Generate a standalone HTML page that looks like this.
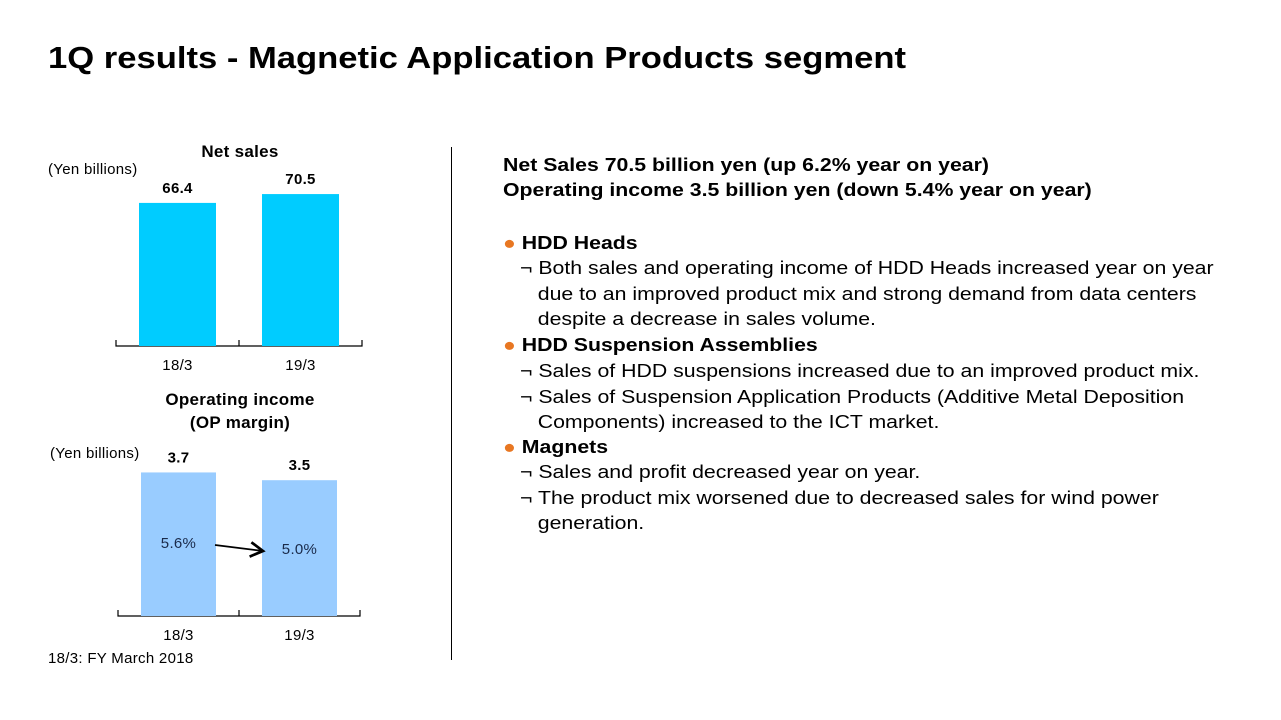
<!DOCTYPE html>
<html><head><meta charset="utf-8"><style>
body{margin:0;width:1281px;height:720px;background:#fff;font-family:"Liberation Sans",sans-serif;position:relative;overflow:hidden;color:#000}
.t{position:absolute;white-space:nowrap}
.r{position:absolute;left:503px;font-size:18.5px;white-space:nowrap;line-height:25.6px;transform:scaleX(1.15);transform-origin:0 0}
.b{font-weight:bold}
.dot{color:#e87722}
</style></head><body>
<div class="t b" style="left:48px;top:40px;font-size:31px;transform:scaleX(1.116);transform-origin:0 0">1Q results - Magnetic Application Products segment</div>
<div style="position:absolute;left:451px;top:147px;width:1px;height:513px;background:#000"></div>
<svg width="450" height="720" style="position:absolute;left:0;top:0;letter-spacing:0.3px" font-family="Liberation Sans, sans-serif">
<g id="g1"></g><g id="g2"></g>
<text x="48" y="174" font-size="15">(Yen billions)</text>
<text x="240" y="157" font-size="17" font-weight="bold" text-anchor="middle">Net sales</text>
<text x="240" y="405" font-size="17" font-weight="bold" text-anchor="middle">Operating income</text>
<text x="240" y="428" font-size="17" font-weight="bold" text-anchor="middle">(OP margin)</text>
<text x="50" y="458" font-size="15">(Yen billions)</text>
<text x="48" y="663" font-size="15">18/3: FY March 2018</text>
<defs><marker id="ah" markerWidth="10" markerHeight="10" refX="8" refY="5" orient="auto"><path d="M1,1 L8,5 L1,9" fill="none" stroke="#000" stroke-width="1.5"/></marker></defs>
<line x1="215" y1="545" x2="263" y2="551" stroke="#000" stroke-width="1.8" marker-end="url(#ah)"/>
</svg>
<div class="r b" style="top:152px">Net Sales 70.5 billion yen (up 6.2% year on year)</div>
<div class="r b" style="top:177px">Operating income 3.5 billion yen (down 5.4% year on year)</div>
<div class="r b" style="top:230px"><span class="dot">●</span> HDD Heads</div>
<div class="r" style="top:255px;left:520px">¬ Both sales and operating income of HDD Heads increased year on year<br>&nbsp;&nbsp;&nbsp;due to an improved product mix and strong demand from data centers<br>&nbsp;&nbsp;&nbsp;despite a decrease in sales volume.</div>
<div class="r b" style="top:332px"><span class="dot">●</span> HDD Suspension Assemblies</div>
<div class="r" style="top:358px;left:520px">¬ Sales of HDD suspensions increased due to an improved product mix.<br>¬ Sales of Suspension Application Products (Additive Metal Deposition<br>&nbsp;&nbsp;&nbsp;Components) increased to the ICT market.</div>
<div class="r b" style="top:434px"><span class="dot">●</span> Magnets</div>
<div class="r" style="top:459px;left:520px">¬ Sales and profit decreased year on year.<br>¬ The product mix worsened due to decreased sales for wind power<br>&nbsp;&nbsp;&nbsp;generation.</div>
<script>
const categories=["18/3","19/3"];
const salesValues=[66.4,70.5];
const opValues=[3.7,3.5];
const marginLabels=["5.6%","5.0%"];
const NS="http://www.w3.org/2000/svg";
function mk(p,tag,a){const e=document.createElementNS(NS,tag);for(const k in a)e.setAttribute(k,a[k]);p.appendChild(e);return e;}
function chart(g,vals,base,scale,x0,x1,barW,color,name,inner){
  const step=(x1-x0)/vals.length;
  const ax=mk(g,'path',{d:`M${x0},${base-6}V${base}H${x1}V${base-6}M${(x0+x1)/2},${base}V${base-6}`,stroke:'#000',fill:'none','stroke-width':1.2});
  
  
  vals.forEach((v,i)=>{
    const cx=x0+step*(i+0.5),h=v*scale;
    const r=mk(g,'rect',{x:cx-barW/2,y:base-h,width:barW,height:h,fill:color});
    
    
    const t=mk(g,'text',{x:cx,y:base-h-10,'font-size':15,'font-weight':'bold','text-anchor':'middle'});
    t.textContent=v.toFixed(1);
    
    
    const c=mk(g,'text',{x:cx,y:base+24,'font-size':15,'text-anchor':'middle'});
    c.textContent=categories[i];
    
    
    if(inner){
      const m=mk(g,'text',{x:cx,y:base-68+i*6,'font-size':15,'text-anchor':'middle',fill:'#1a2a4a'});
      m.textContent=inner[i];
      
      
    }
  });
}
chart(document.getElementById('g1'),salesValues,346,2.155,116,362,77,'#00ccff','sales',null);
chart(document.getElementById('g2'),opValues,616,38.8,118,360,75,'#99ccff','op',marginLabels);
</script>
</body></html>
